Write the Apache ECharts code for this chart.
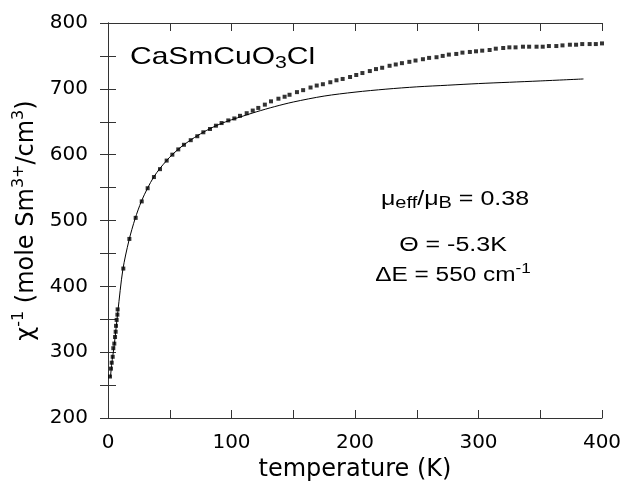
<!DOCTYPE html>
<html>
<head>
<meta charset="utf-8">
<script src="https://cdn.jsdelivr.net/npm/echarts@6/dist/echarts.min.js"></script>
<style>
  html, body { margin: 0; padding: 0; background: #fff; }
  #chart { width: 623px; height: 483px; }
</style>
</head>
<body>
<div id="chart"></div>
<script>
// measured chi^-1 (dots)
var dataT = [1.6, 2.4, 3, 3.8, 4.3, 5.1, 5.7, 6.2, 6.5, 7, 7.6, 7.8, 12.4, 17.3, 22.4, 27.3, 32.1, 37.2,
  42.1, 47.5, 52.1, 56.9, 61.5, 67, 72.3, 77.2, 82.6, 87.4, 92, 97.4, 102.3, 106.9, 112.3, 117.2, 121.7,
  127, 132, 138, 143, 147, 153, 158, 164, 169, 174, 180, 185, 190, 196, 201, 206, 212, 217, 222, 228,
  233, 238, 244, 249, 255, 260, 266, 271, 276, 282, 287, 293, 298, 303, 309, 314, 320, 325, 330, 336,
  341, 347, 352, 357, 363, 368, 374, 379, 384, 390, 395, 400];
var dataChi = [263, 275, 284, 293, 306, 313, 323, 331, 340, 349, 357, 365, 427, 472, 504, 529, 549, 566,
  578, 591, 600, 608, 615, 622, 628, 634, 639, 644, 648, 652, 655, 659, 663, 667, 671,
  676, 681, 685, 688, 691, 695, 698, 702, 705, 707, 710, 713, 715, 718, 721, 724, 727, 730, 732, 735,
  737, 739, 741, 743, 745, 747, 748, 750, 752, 753, 755, 756, 757, 758, 759, 761, 762, 763, 763, 764,
  764, 764, 764, 765, 765, 766, 767, 767, 768, 768, 768, 769];

// fit (solid line)
var fitT = [2, 3, 5, 8, 12, 17, 22, 27, 32, 37, 42, 47, 52, 60, 70, 80, 90, 100, 110, 120, 135, 150,
  175, 200, 225, 250, 275, 300, 325, 350, 385];
var fitChi = [262, 282, 310, 362, 425, 470, 503, 529, 549, 566, 579, 590, 600, 613, 626, 637, 646, 653,
  659, 665, 673, 680, 689, 695, 699.5, 703, 705.5, 708, 710, 712, 715];

var xTicks = [0, 100, 200, 300, 400];
var yTicks = [200, 300, 400, 500, 600, 700, 800];

var FONT = '"Liberation Sans", Arial, sans-serif';
var AXFONT = '"DejaVu Sans", sans-serif';

function zip(a, b) {
  var out = [];
  for (var i = 0; i < a.length; i++) out.push([a[i], b[i]]);
  return out;
}

var chart = echarts.init(document.getElementById('chart'));

var axisBase = {
  type: 'value',
  interval: 50,
  splitLine: { show: false },
  axisLine: { show: true, lineStyle: { color: '#333', width: 1 } },
  axisTick: { show: true, inside: true, length: 8, lineStyle: { color: '#333' } }
};

var option = {
  animation: false,
  backgroundColor: '#fff',
  grid: { left: 108, right: 21, top: 23, bottom: 65, outerBoundsMode: 'none', containLabel: false },
  xAxis: [
    Object.assign({}, axisBase, {
      min: 0, max: 400, position: 'bottom',
      name: 'temperature (K)', nameLocation: 'middle', nameGap: 39,
      nameTextStyle: { fontFamily: AXFONT, fontSize: 24, color: '#000' },
      axisLabel: {
        fontFamily: AXFONT, fontSize: 20, color: '#000', margin: 15,
        formatter: function (v) { return xTicks.indexOf(v) >= 0 ? String(v) : ''; }
      }
    }),
    Object.assign({}, axisBase, {
      min: 0, max: 400, position: 'top', axisLabel: { show: false }
    })
  ],
  yAxis: [
    Object.assign({}, axisBase, {
      min: 200, max: 800, position: 'left',
      name: '{n|χ}{sup|-1}{n| (mole Sm}{sup|3+}{n|/cm}{sup|3}{n|)}',
      nameLocation: 'middle', nameGap: 62,
      nameTextStyle: {
        fontFamily: AXFONT, color: '#000',
        rich: {
          n: { fontFamily: AXFONT, fontSize: 24, lineHeight: 32, color: '#000' },
          sup: { fontFamily: AXFONT, fontSize: 16, lineHeight: 16, verticalAlign: 'top', color: '#000' }
        }
      },
      axisLabel: {
        fontFamily: AXFONT, fontSize: 20, color: '#000', margin: 20,
        formatter: function (v) { return yTicks.indexOf(v) >= 0 ? String(v) : ''; }
      }
    }),
    Object.assign({}, axisBase, {
      min: 200, max: 800, position: 'right', axisLabel: { show: false }
    })
  ],
  graphic: [
    {
      type: 'text', x: 130, y: 57, scaleX: 1.25,
      style: {
        text: '{n|CaSmCuO}{sub|3}{n|Cl}',
        align: 'left', verticalAlign: 'middle',
        rich: {
          n: { fontFamily: FONT, fontSize: 24, lineHeight: 30, fill: '#000' },
          sub: { fontFamily: FONT, fontSize: 17, lineHeight: 18, verticalAlign: 'bottom', fill: '#000' }
        }
      }
    },
    {
      type: 'text', x: 455, y: 199, scaleX: 1.25,
      style: {
        text: '{n|μ}{sub|eff}{n|/μ}{sub|B}{n| = 0.38}',
        align: 'center', verticalAlign: 'middle',
        rich: {
          n: { fontFamily: FONT, fontSize: 20, lineHeight: 26, fill: '#000' },
          sub: { fontFamily: FONT, fontSize: 16, lineHeight: 16, verticalAlign: 'bottom', fill: '#000' }
        }
      }
    },
    {
      type: 'text', x: 453, y: 245, scaleX: 1.25,
      style: {
        text: 'Θ = -5.3K', align: 'center', verticalAlign: 'middle',
        fontFamily: FONT, fontSize: 20, fill: '#000'
      }
    },
    {
      type: 'text', x: 453, y: 275, scaleX: 1.22,
      style: {
        text: '{n|ΔE = 550 cm}{sup|-1}',
        align: 'center', verticalAlign: 'middle',
        rich: {
          n: { fontFamily: FONT, fontSize: 20, lineHeight: 26, fill: '#000' },
          sup: { fontFamily: FONT, fontSize: 14, lineHeight: 14, verticalAlign: 'top', fill: '#000' }
        }
      }
    }
  ],
  series: [
    {
      name: 'fit',
      type: 'line',
      data: zip(fitT, fitChi),
      showSymbol: false,
      smooth: 0.3,
      lineStyle: { color: '#000', width: 1 },
      z: 2
    },
    {
      name: 'data',
      type: 'scatter',
      data: zip(dataT, dataChi),
      symbol: 'rect',
      symbolSize: 4,
      itemStyle: { color: '#000' },
      z: 3
    }
  ]
};

chart.setOption(option);
</script>
</body>
</html>
